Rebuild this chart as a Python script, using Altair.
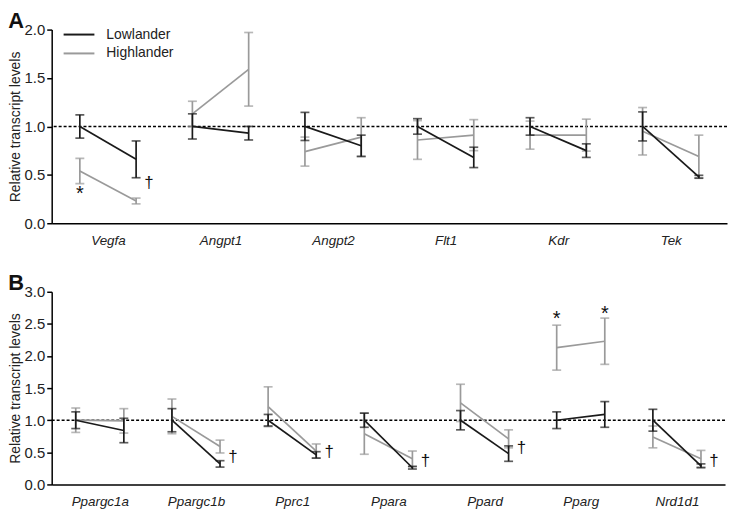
import altair as alt
import pandas as pd

groups = ["Lowlander", "Highlander"]
colors = ["#1a1a1a", "#9a9a9a"]

genes_a = ["Vegfa", "Angpt1", "Angpt2", "Flt1", "Kdr", "Tek"]
low_a_mean = [1.00, 0.66, 1.00, 0.93, 1.00, 0.80, 1.00, 0.68, 1.00, 0.75, 1.00, 0.48]
low_a_sem = [0.12, 0.19, 0.13, 0.07, 0.145, 0.11, 0.08, 0.105, 0.09, 0.07, 0.15, 0.015]
high_a_mean = [0.54, 0.23, 1.13, 1.59, 0.74, 0.89, 0.86, 0.91, 0.91, 0.91, 0.95, 0.69]
high_a_sem = [0.13, 0.03, 0.13, 0.38, 0.15, 0.20, 0.20, 0.16, 0.145, 0.165, 0.245, 0.22]
ann_a_pos = [0, 1]
ann_a_y = [0.34, 0.42]
ann_a_sym = ["*", "†"]

genes_b = ["Ppargc1a", "Ppargc1b", "Pprc1", "Ppara", "Ppard", "Pparg", "Nrd1d1"]
low_b_mean = [1.00, 0.84, 1.00, 0.32, 1.00, 0.46, 1.00, 0.26, 1.00, 0.48, 1.00, 1.09, 1.00, 0.29]
low_b_sem = [0.13, 0.19, 0.18, 0.05, 0.09, 0.05, 0.11, 0.02, 0.15, 0.12, 0.13, 0.20, 0.17, 0.03]
high_b_mean = [1.00, 0.99, 1.06, 0.59, 1.21, 0.52, 0.79, 0.40, 1.27, 0.71, 2.13, 2.23, 0.74, 0.40]
high_b_sem = [0.19, 0.19, 0.27, 0.10, 0.31, 0.11, 0.32, 0.12, 0.29, 0.14, 0.35, 0.36, 0.17, 0.13]
ann_b_pos = [3, 5, 7, 9, 13, 10, 11]
ann_b_y = [0.42, 0.50, 0.36, 0.56, 0.37, 2.64, 2.72]
ann_b_sym = ["†", "†", "†", "†", "†", "*", "*"]

FONT = "Liberation Sans"


def panel(genes, lm, ls, hm, hs, ymax, apos, ay, asym, letter, width, height, legend):
    rows = []
    for grp, m, s in [("Lowlander", lm, ls), ("Highlander", hm, hs)]:
        for i, (mm, ss) in enumerate(zip(m, s)):
            rows.append(dict(group=grp, gene=genes[i // 2], pos=i, mean=mm,
                             lo=mm - ss, hi=mm + ss))
    df = pd.DataFrame(rows)
    n = len(genes) * 2
    xscale = alt.Scale(domain=[-0.5, n - 0.5], nice=False, zero=False)
    yscale = alt.Scale(domain=[0, ymax], nice=False)
    arr = "[" + ",".join("'" + g + "'" for g in genes) + "]"
    xaxis = alt.Axis(values=[2 * i + 0.5 for i in range(len(genes))],
                     labelExpr=arr + "[floor(datum.value/2)]", ticks=False,
                     grid=False, title=None, labelFontStyle="italic",
                     labelFontSize=13.5, labelPadding=10, domainColor="black",
                     domainWidth=1.5, labelColor="#222", labelOverlap=False,
                     tickCount=n)
    yvals = [v / 2 for v in range(int(ymax * 2) + 1)]
    yaxis = alt.Axis(values=yvals, tickCount=len(yvals), format=".1f",
                     title="Relative transcript levels",
                     grid=False, titleFontSize=14, titleFontWeight="normal",
                     labelFontSize=15, tickSize=5, tickColor="black",
                     domainColor="black", domainWidth=1.5, tickWidth=1.5,
                     labelColor="#222", titleColor="#222", titlePadding=2,
                     labelOverlap=False, labelFlush=False)
    cscale = alt.Scale(domain=groups, range=colors)
    c_none = alt.Color("group:N", scale=cscale, legend=None)
    base = alt.Chart(df)
    ref = alt.Chart(pd.DataFrame({"y": [1.0]})).mark_rule(
        strokeDash=[3, 2], color="black", strokeWidth=1.5).encode(
        y=alt.Y("y:Q", scale=yscale, axis=yaxis))
    layers = [ref]
    for grp in ["Highlander", "Lowlander"]:
        b = base.transform_filter(alt.datum.group == grp)
        layers.append(b.mark_line(strokeWidth=1.7).encode(
            x=alt.X("pos:Q", scale=xscale, axis=xaxis),
            y=alt.Y("mean:Q", scale=yscale, axis=yaxis),
            color=c_none, detail="gene:N"))
        layers.append(b.mark_rule(strokeWidth=1.7).encode(
            x="pos:Q", y="lo:Q", y2="hi:Q", color=c_none))
        for f in ["lo", "hi"]:
            layers.append(b.mark_tick(orient="horizontal", size=9, thickness=1.7).encode(
                x="pos:Q", y=f + ":Q", color=c_none))
    adf = pd.DataFrame({"pos": apos, "y": ay, "sym": asym})
    layers.append(alt.Chart(adf).transform_filter(alt.datum.sym == "*").mark_text(
        fontSize=20, font=FONT, color="#111", baseline="middle", dy=4).encode(
        x="pos:Q", y="y:Q", text="sym:N"))
    layers.append(alt.Chart(adf).transform_filter(alt.datum.sym == "†").mark_text(
        fontSize=17, font=FONT, color="#111", baseline="middle", dx=13).encode(
        x="pos:Q", y="y:Q", text="sym:N"))
    if legend:
        ldf = pd.DataFrame({"group": groups})
        for i, g in enumerate(groups):
            lc = alt.Chart(ldf).transform_filter(alt.datum.group == g)
            layers.append(lc.mark_rule(strokeWidth=2, color=colors[i]).encode(
                x=alt.value(12), x2=alt.value(43), y=alt.value(5 + 19 * i)))
            layers.append(lc.mark_text(align="left", baseline="middle", fontSize=14,
                                       font=FONT, color="#222").encode(
                x=alt.value(55), y=alt.value(5 + 19 * i), text="group:N"))
    return alt.layer(*layers).properties(
        width=width, height=height,
        title=alt.TitleParams(letter, anchor="start", frame="bounds", fontSize=22,
                              fontWeight="bold", font=FONT, offset=-10, color="#111"))


pa = panel(genes_a, low_a_mean, low_a_sem, high_a_mean, high_a_sem, 2.0,
           ann_a_pos, ann_a_y, ann_a_sym, "A", 680, 195, True)
pb = panel(genes_b, low_b_mean, low_b_sem, high_b_mean, high_b_sem, 3.0,
           ann_b_pos, ann_b_y, ann_b_sym, "B", 678, 194, False)

chart = alt.vconcat(pa, pb, spacing=25).configure(
    font=FONT, padding={"left": 0, "top": 0, "right": 0, "bottom": 0}
).configure_view(stroke=None)

chart.save("out.html", embed_options={"renderer": "svg", "actions": False})
